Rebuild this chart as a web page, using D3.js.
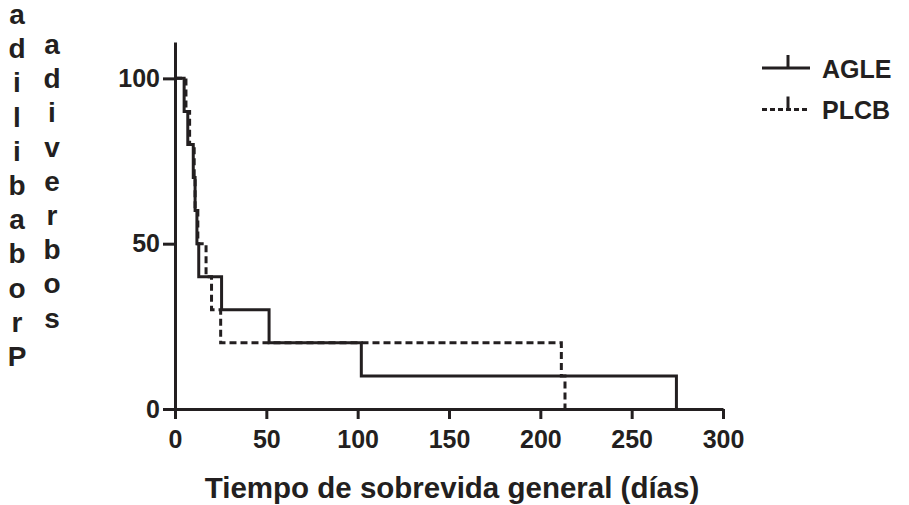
<!DOCTYPE html>
<html>
<head>
<meta charset="utf-8">
<script src="https://cdn.jsdelivr.net/npm/d3@7"></script>
<style>
  body { margin: 0; background: #fff; }
  svg { display: block; font-family: "Liberation Sans", Arial, sans-serif; font-weight: bold; }
</style>
</head>
<body>
<div id="chart"></div>
<script>
// donnees (Kaplan-Meier, pas de 10 %)
const agleDias = [0, 5, 7, 10, 11, 12, 13, 25.5, 51.5, 102, 274.5];
const agleSobrevida = [100, 90, 80, 70, 60, 50, 40, 30, 20, 10, 0];
const plcbDias = [0, 6, 8, 10.5, 11, 12.5, 17, 20, 25, 211.5, 213.5];
const plcbSobrevida = [100, 90, 80, 70, 60, 50, 40, 30, 20, 10, 0];
const grupos = ["AGLE", "PLCB"];
const xTicks = [0, 50, 100, 150, 200, 250, 300];
const yTicks = [0, 50, 100];
// titre Y tel qu'il apparait (lettres empilees, coupe en haut)
const yLabel1 = "Probabilida";
const yLabel2 = "sobrevida";
const xLabel = "Tiempo de sobrevida general (días)";

const width = 909, height = 505;
const ink = "#231f20";

const svg = d3.select("#chart").append("svg")
    .attr("width", width)
    .attr("height", height);

const x = d3.scaleLinear().domain([0, 300]).range([175, 723]);
const y = d3.scaleLinear().domain([0, 111]).range([409, 42]);

// axe X
const xAxis = svg.append("g")
    .attr("transform", "translate(0," + y(0) + ")")
    .call(d3.axisBottom(x).tickValues(xTicks).tickSize(10).tickSizeOuter(0).tickPadding(11));
// axe Y
const yAxis = svg.append("g")
    .attr("transform", "translate(" + x(0) + ",0)")
    .call(d3.axisLeft(y).tickValues(yTicks).tickSize(12).tickSizeOuter(0).tickPadding(3));

[xAxis, yAxis].forEach(ax => {
    ax.selectAll("path, line").attr("stroke", ink).attr("stroke-width", 3);
    ax.selectAll("text")
        .attr("fill", ink)
        .style("font-size", "25px")
        .style("font-weight", "bold");
});

// courbes en escalier
const line = d3.line()
    .x(d => x(d[0]))
    .y(d => y(d[1]))
    .curve(d3.curveStepAfter);

const plcb = plcbDias.map((d, i) => [d, plcbSobrevida[i]]);
const agle = agleDias.map((d, i) => [d, agleSobrevida[i]]);

svg.append("path")
    .attr("d", line(plcb))
    .attr("fill", "none")
    .attr("stroke", ink)
    .attr("stroke-width", 3)
    .attr("stroke-dasharray", "7,4");

svg.append("path")
    .attr("d", line(agle))
    .attr("fill", "none")
    .attr("stroke", ink)
    .attr("stroke-width", 3);

// titre axe X
svg.append("text")
    .attr("x", 452)
    .attr("y", 498)
    .attr("text-anchor", "middle")
    .attr("fill", ink)
    .style("font-size", "29.5px")
    .text(xLabel);

// titre axe Y : lettres empilees (inversees)
const col1 = yLabel1.split("").reverse();
const col2 = yLabel2.split("").reverse();
svg.append("g").selectAll("text")
    .data(col1)
    .enter().append("text")
    .attr("x", 17)
    .attr("y", (d, i) => 24 + i * 34.2)
    .attr("text-anchor", "middle")
    .attr("fill", ink)
    .style("font-size", "28px")
    .text(d => d);
svg.append("g").selectAll("text")
    .data(col2)
    .enter().append("text")
    .attr("x", 52)
    .attr("y", (d, i) => 54 + i * 34.2)
    .attr("text-anchor", "middle")
    .attr("fill", ink)
    .style("font-size", "28px")
    .text(d => d);

// legende
const legend = svg.append("g")
    .selectAll("g")
    .data(grupos)
    .enter().append("g")
    .attr("transform", (d, i) => "translate(0," + (68 + i * 41.5) + ")");

legend.append("line")
    .attr("x1", 762).attr("x2", 810)
    .attr("y1", 0).attr("y2", 0)
    .attr("stroke", ink)
    .attr("stroke-width", 3)
    .attr("stroke-dasharray", (d, i) => i === 0 ? null : "5,3");

legend.append("line")
    .attr("x1", 788).attr("x2", 788)
    .attr("y1", -13).attr("y2", 0)
    .attr("stroke", ink)
    .attr("stroke-width", 3);

legend.append("text")
    .attr("x", 822)
    .attr("y", 9.5)
    .attr("fill", ink)
    .style("font-size", "25px")
    .text(d => d);
</script>
</body>
</html>
